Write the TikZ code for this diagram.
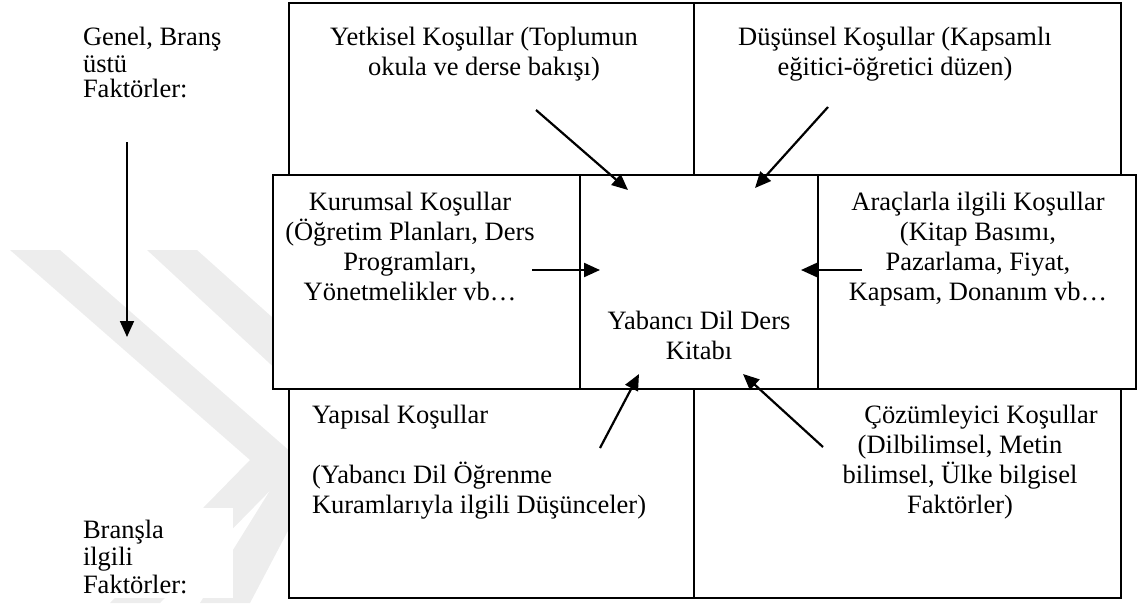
\documentclass[tikz,border=0pt]{standalone}
\usepackage{fontspec}
\setmainfont{Liberation Serif}
\usetikzlibrary{arrows.meta}
% invisible rule that fixes the height of every first text line
\newcommand\firstline{\rule{0pt}{21pt}}

\begin{document}
\begin{tikzpicture}[x=1pt,y=-1pt,
  cell/.style={draw=black,line width=1.6pt,fill=white,inner sep=0pt,outer sep=0pt},
  txt/.style={inner sep=0pt,outer sep=0pt,font=\fontsize{26.5}{30}\selectfont},
  sidetxt/.style={inner sep=0pt,outer sep=0pt,align=left,anchor=north west,
    font=\fontsize{26.5}{24.5}\selectfont},
  arr/.style={line width=2.2pt,-{Triangle[length=16pt,width=14pt]}},
  wm/.style={fill=black!7,draw=none}]

\useasboundingbox (0,0) rectangle (1138,603);

% faint watermark stripes in the background
\fill[wm] (10,250) -- (60,250) -- (300,460) -- (250,460) -- cycle;
\fill[wm] (147,250) -- (197,250) -- (320,360) -- (320,410) -- cycle;
\fill[wm] (250,460) -- (300,460) -- (160,603) -- (110,603) -- cycle;
\fill[wm] (320,410) -- (320,470) -- (250,603) -- (200,603) -- cycle;
% white ground of the lower side label
\fill[white] (72,508) rectangle (233,598);

% upper row: general factors
\node[cell,minimum width=405pt,minimum height=172pt] (yetki) at (491.5,89) {};
\node[cell,minimum width=427pt,minimum height=172pt] (dusun) at (907.5,89) {};
% lower row: subject related factors
\node[cell,minimum width=405pt,minimum height=209pt] (yapi) at (491.5,493.5) {};
\node[cell,minimum width=427pt,minimum height=209pt] (cozum) at (907.5,493.5) {};
% middle row
\node[cell,minimum width=307pt,minimum height=214pt] (kurum) at (426.5,282) {};
\node[cell,minimum width=238pt,minimum height=214pt] (kitap) at (699,282) {};
\node[cell,minimum width=318pt,minimum height=214pt] (arac) at (977,282) {};

% texts
\node[sidetxt] (genel) at (83,24)
  {\firstline Genel, Branş\\\firstline üstü\\\firstline Faktörler:};
\node[sidetxt] (brans) at (83,517)
  {\firstline Branşla\\\firstline ilgili\\\firstline Faktörler:};

\node[txt,align=center,anchor=north] (yetkiT) at (484,24)
  {\firstline Yetkisel Koşullar (Toplumun\\okula ve derse bakışı)};
\node[txt,align=center,anchor=north] (dusunT) at (895,24)
  {\firstline Düşünsel Koşullar (Kapsamlı\\eğitici-öğretici düzen)};
\node[txt,align=center,anchor=north] (kurumT) at (410,189)
  {\firstline Kurumsal Koşullar\\(Öğretim Planları, Ders\\Programları,\\Yönetmelikler vb…};
\node[txt,align=center,anchor=north] (kitapT) at (699,308)
  {\firstline Yabancı Dil Ders\\Kitabı};
\node[txt,align=center,anchor=north] (aracT) at (978,189)
  {\firstline Araçlarla ilgili Koşullar\\(Kitap Basımı,\\Pazarlama, Fiyat,\\Kapsam, Donanım vb…};
\node[txt,align=left,anchor=north west] (yapiT) at (312,402)
  {\firstline Yapısal Koşullar\\\mbox{}\\(Yabancı Dil Öğrenme\\Kuramlarıyla ilgili Düşünceler)};
\node[txt,align=center,anchor=north] (cozumT) at (960,402)
  {\firstline\hspace*{42pt}Çözümleyici Koşullar\\(Dilbilimsel, Metin\hspace*{40pt}\\bilimsel, Ülke bilgisel\\Faktörler)};

% arrow ends
\coordinate (tlS) at (536,110);  \coordinate (tlE) at (628,190);
\coordinate (trS) at (828,107);  \coordinate (trE) at (755,188);
\coordinate (lS)  at (532,270);  \coordinate (lE)  at (600,270);
\coordinate (rS)  at (862,270);  \coordinate (rE)  at (801,270);
\coordinate (blS) at (600,448);  \coordinate (blE) at (639,374);
\coordinate (brS) at (823,447);  \coordinate (brE) at (743,374);
\coordinate (vS)  at (127,142);  \coordinate (vE)  at (127,337);

\draw[arr] (tlS) -- (tlE);
\draw[arr] (trS) -- (trE);
\draw[arr] (lS) -- (lE);
\draw[arr] (rS) -- (rE);
\draw[arr] (blS) -- (blE);
\draw[arr] (brS) -- (brE);
\draw[arr,line width=1.8pt] (vS) -- (vE);
\end{tikzpicture}
\end{document}
